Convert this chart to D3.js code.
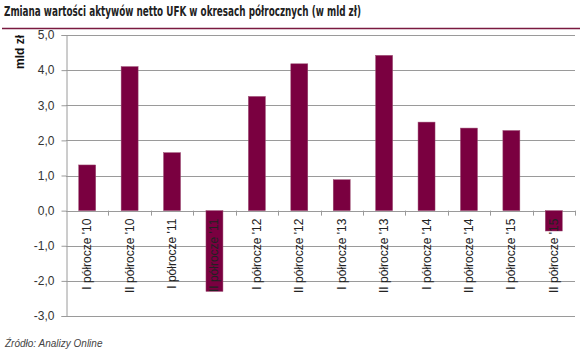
<!DOCTYPE html>
<html>
<head>
<meta charset="utf-8">
<script src="https://cdn.jsdelivr.net/npm/d3@7"></script>
<style>
  body { margin: 0; background: #fff; }
  svg { display: block; }
</style>
</head>
<body>
<div id="chart"></div>
<script>
// data
const categories = ["I półrocze '10", "II półrocze '10", "I półrocze '11", "II półrocze '11",
    "I półrocze '12", "II półrocze '12", "I półrocze '13", "II półrocze '13",
    "I półrocze '14", "II półrocze '14", "I półrocze '15", "II półrocze '15"];
const values = [1.3, 4.1, 1.65, -2.3, 3.25, 4.18, 0.88, 4.42, 2.52, 2.35, 2.28, -0.58];
const yTicks = [5, 4, 3, 2, 1, 0, -1, -2, -3];

const width = 582, height = 354;
const margin = {top: 35, right: 7, bottom: 38, left: 66};

const svg = d3.select("#chart").append("svg")
    .attr("width", width)
    .attr("height", height);

// title + rule
svg.append("text")
    .attr("x", 4)
    .attr("y", 16)
    .attr("font-family", "'Liberation Sans Narrow', 'DejaVu Sans Condensed', sans-serif")
    .attr("font-size", "14px")
    .attr("font-weight", "bold")
    .attr("fill", "#222")
    .attr("textLength", 357)
    .attr("lengthAdjust", "spacingAndGlyphs")
    .text("Zmiana wartości aktywów netto UFK w okresach półrocznych (w mld zł)");

svg.append("line")
    .attr("x1", 2).attr("x2", 580)
    .attr("y1", 28.5).attr("y2", 28.5)
    .attr("stroke", "#7a1a40")
    .attr("stroke-width", 1.5);

const x = d3.scaleBand()
    .domain(categories)
    .range([margin.left, width - margin.right])
    .paddingInner(0.6)
    .paddingOuter(0.3);

const y = d3.scaleLinear()
    .domain([-3, 5])
    .range([height - margin.bottom, margin.top]);

// grid lines
svg.append("g")
    .selectAll("line")
    .data(yTicks)
    .enter().append("line")
    .attr("x1", margin.left)
    .attr("x2", width - margin.right)
    .attr("y1", d => Math.round(y(d)) + 0.5)
    .attr("y2", d => Math.round(y(d)) + 0.5)
    .attr("stroke", "#9a9a9a")
    .attr("stroke-width", 1);

// y axis
const yAxis = svg.append("g")
    .attr("transform", "translate(" + (margin.left + 0.5) + ",0)")
    .call(d3.axisLeft(y)
        .tickValues(yTicks)
        .tickSize(5)
        .tickPadding(7)
        .tickFormat(d => d3.format(".1f")(d).replace(".", ",").replace("−", "-")));
yAxis.select(".domain").attr("stroke", "#9a9a9a");
yAxis.selectAll(".tick line").attr("stroke", "#9a9a9a");
yAxis.selectAll(".tick text")
    .attr("font-family", "'Liberation Sans', Arial, sans-serif")
    .attr("font-size", "12px")
    .attr("fill", "#333");

// bars
svg.append("g")
    .selectAll("rect")
    .data(values)
    .enter().append("rect")
    .attr("x", (d, i) => x(categories[i]))
    .attr("width", x.bandwidth())
    .attr("y", d => y(Math.max(0, d)))
    .attr("height", d => Math.abs(y(d) - y(0)))
    .attr("fill", "#7a0040")
    .attr("stroke", "#9a4a70")
    .attr("stroke-width", 0.5);

// category ticks on the zero line
const step = x.step();
svg.append("g")
    .selectAll("line")
    .data(d3.range(1, categories.length + 1))
    .enter().append("line")
    .attr("x1", i => Math.round(margin.left + i * step) + 0.5)
    .attr("x2", i => Math.round(margin.left + i * step) + 0.5)
    .attr("y1", y(0))
    .attr("y2", y(0) + 5)
    .attr("stroke", "#9a9a9a");

// category labels
svg.append("g")
    .selectAll("text")
    .data(categories)
    .enter().append("text")
    .attr("transform", d => "translate(" + (x(d) + x.bandwidth() / 2 + 4) + "," + (y(0) + 8) + ") rotate(-90)")
    .attr("text-anchor", "end")
    .attr("font-family", "'Liberation Sans', Arial, sans-serif")
    .attr("font-size", "12px")
    .attr("fill", "#222")
    .text(d => d);

// y axis title
svg.append("text")
    .attr("transform", "translate(24,35) rotate(-90)")
    .attr("text-anchor", "end")
    .attr("font-family", "'Liberation Sans', Arial, sans-serif")
    .attr("font-size", "12px")
    .attr("font-weight", "bold")
    .attr("fill", "#111")
    .text("mld zł");

// source
svg.append("text")
    .attr("x", 5)
    .attr("y", 347)
    .attr("font-family", "'Liberation Sans', Arial, sans-serif")
    .attr("font-size", "10px")
    .attr("font-style", "italic")
    .attr("fill", "#444")
    .text("Źródło: Analizy Online");
</script>
</body>
</html>
